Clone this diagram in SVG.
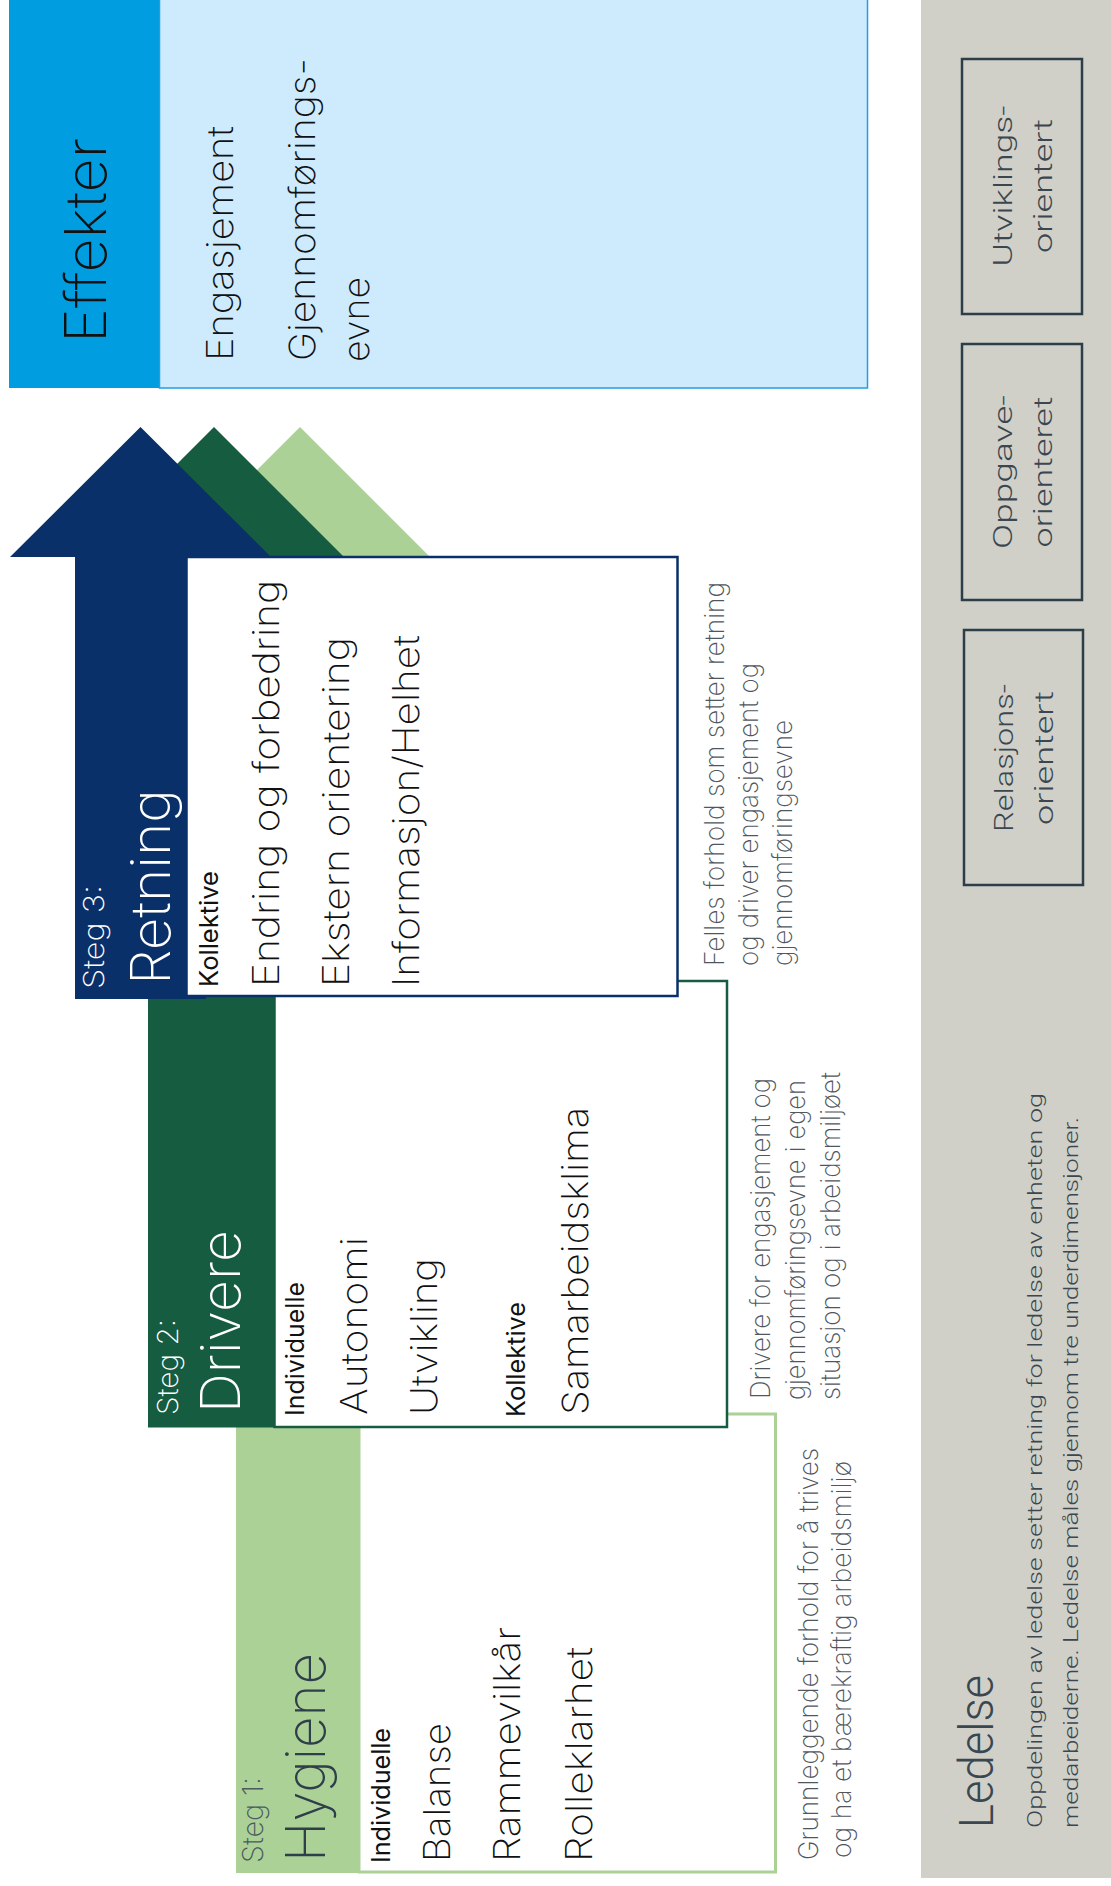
<svg xmlns="http://www.w3.org/2000/svg" width="1111" height="1886" viewBox="0 0 1111 1886">
<style>
text{font-family:Inter,'Liberation Sans',sans-serif;}
.big{font-size:57px;font-weight:200;fill:#111}
.title{font-size:55px;font-weight:200}
.item{font-size:36px;font-weight:200;fill:#111}
.lab{font-size:25px;font-weight:400;fill:#111}
.steg{font-size:29px;font-weight:200}
.side{font-size:27px;font-weight:200;fill:#4f575e}
.led{font-family:Roboto,'Liberation Sans',sans-serif;font-weight:300;fill:#3a4750}
.gb{fill:none;stroke:#2c3e48;stroke-width:2.5}
.w{fill:#fff}
</style>
<rect width="1111" height="1886" fill="#fff"/>

<g id="ledelse">
<rect x="921" y="0" width="190" height="1878" fill="#d0d0c8"/>
<text class="led" font-size="48" transform="translate(993,1828) rotate(-90)" textLength="153" lengthAdjust="spacingAndGlyphs">Ledelse</text>
<text class="led" font-size="21" transform="translate(1042,1828) rotate(-90)" textLength="735" lengthAdjust="spacingAndGlyphs">Oppdelingen av ledelse setter retning for ledelse av enheten og</text>
<text class="led" font-size="21" transform="translate(1078,1828) rotate(-90)" textLength="711" lengthAdjust="spacingAndGlyphs">medarbeiderne. Ledelse måles gjennom tre underdimensjoner.</text>
</g>

<g id="utviklingsorientert">
<rect class="gb" x="962" y="59" width="120" height="255"/>
<text class="led" font-size="26" text-anchor="middle" transform="translate(1012,186) rotate(-90)" textLength="161" lengthAdjust="spacingAndGlyphs">Utviklings-</text>
<text class="led" font-size="26" text-anchor="middle" transform="translate(1052,186) rotate(-90)" textLength="134" lengthAdjust="spacingAndGlyphs">orientert</text>
</g>
<g id="oppgaveorienteret">
<rect class="gb" x="962" y="344" width="120" height="256"/>
<text class="led" font-size="26" text-anchor="middle" transform="translate(1012,472) rotate(-90)" textLength="154" lengthAdjust="spacingAndGlyphs">Oppgave-</text>
<text class="led" font-size="26" text-anchor="middle" transform="translate(1052,472) rotate(-90)" textLength="151" lengthAdjust="spacingAndGlyphs">orienteret</text>
</g>
<g id="relasjonsorientert">
<rect class="gb" x="964" y="630" width="119" height="255"/>
<text class="led" font-size="26" text-anchor="middle" transform="translate(1013,758) rotate(-90)" textLength="148" lengthAdjust="spacingAndGlyphs">Relasjons-</text>
<text class="led" font-size="26" text-anchor="middle" transform="translate(1053,758) rotate(-90)" textLength="134" lengthAdjust="spacingAndGlyphs">orientert</text>
</g>

<g id="effekter">
<rect x="9" y="0" width="151" height="388" fill="#009ee0"/>
<rect x="159.5" y="-2" width="708" height="390" fill="#cdebfd" stroke="#1fa0e0" stroke-width="1.5"/>
<text class="big" transform="translate(106,343) rotate(-90)" textLength="205" lengthAdjust="spacingAndGlyphs">Effekter</text>
<text class="item" transform="translate(232.5,361) rotate(-90)" textLength="235" lengthAdjust="spacingAndGlyphs">Engasjement</text>
<text class="item" transform="translate(315,361) rotate(-90)" textLength="303" lengthAdjust="spacingAndGlyphs">Gjennomførings-</text>
<text class="item" transform="translate(368.5,362) rotate(-90)" textLength="85" lengthAdjust="spacingAndGlyphs">evne</text>
</g>

<g id="hygiene">
<polygon points="170,557 300,427 430,557 363,557 363,1873 236,1873 236,557" fill="#acd197"/>
<rect x="359" y="1414" width="416.5" height="458" fill="#fff" stroke="#acd197" stroke-width="3"/>
<text class="steg" fill="#4a5a5e" transform="translate(263,1863) rotate(-90)" textLength="86" lengthAdjust="spacingAndGlyphs">Steg 1:</text>
<text class="title" fill="#2e3f49" transform="translate(325,1862) rotate(-90)" textLength="209" lengthAdjust="spacingAndGlyphs">Hygiene</text>
<text class="lab" transform="translate(390,1863) rotate(-90)" textLength="135" lengthAdjust="spacingAndGlyphs">Individuelle</text>
<text class="item" transform="translate(450,1862) rotate(-90)" textLength="139" lengthAdjust="spacingAndGlyphs">Balanse</text>
<text class="item" transform="translate(520,1862) rotate(-90)" textLength="235" lengthAdjust="spacingAndGlyphs">Rammevilkår</text>
<text class="item" transform="translate(592,1862) rotate(-90)" textLength="215" lengthAdjust="spacingAndGlyphs">Rolleklarhet</text>
<text class="side" transform="translate(818,1860) rotate(-90)" textLength="412" lengthAdjust="spacingAndGlyphs">Grunnleggende forhold for å trives</text>
<text class="side" transform="translate(851,1858) rotate(-90)" textLength="397" lengthAdjust="spacingAndGlyphs">og ha et bærekraftig arbeidsmiljø</text>
</g>

<g id="drivere">
<polygon points="84,557 214,427 344,557 280,557 280,1427.5 148,1427.5 148,557" fill="#155c41"/>
<rect x="274.5" y="981" width="452.5" height="446" fill="#fff" stroke="#155c41" stroke-width="2.5"/>
<text class="steg w" transform="translate(178,1415) rotate(-90)" textLength="96" lengthAdjust="spacingAndGlyphs">Steg 2:</text>
<text class="title w" transform="translate(240,1413) rotate(-90)" textLength="183" lengthAdjust="spacingAndGlyphs">Drivere</text>
<text class="lab" transform="translate(304,1416) rotate(-90)" textLength="134" lengthAdjust="spacingAndGlyphs">Individuelle</text>
<text class="item" transform="translate(367,1415) rotate(-90)" textLength="178" lengthAdjust="spacingAndGlyphs">Autonomi</text>
<text class="item" transform="translate(437,1415) rotate(-90)" textLength="157" lengthAdjust="spacingAndGlyphs">Utvikling</text>
<text class="lab" transform="translate(525,1417) rotate(-90)" textLength="115" lengthAdjust="spacingAndGlyphs">Kollektive</text>
<text class="item" transform="translate(588,1415) rotate(-90)" textLength="308" lengthAdjust="spacingAndGlyphs">Samarbeidsklima</text>
<text class="side" transform="translate(770,1399) rotate(-90)" textLength="321" lengthAdjust="spacingAndGlyphs">Drivere for engasjement og</text>
<text class="side" transform="translate(805,1400) rotate(-90)" textLength="320" lengthAdjust="spacingAndGlyphs">gjennomføringsevne i egen</text>
<text class="side" transform="translate(840,1400) rotate(-90)" textLength="328" lengthAdjust="spacingAndGlyphs">situasjon og i arbeidsmiljøet</text>
</g>

<g id="retning">
<polygon points="10,557 140.5,427 271,557 206,557 206,999 75,999 75,557" fill="#0a306a"/>
<rect x="186.5" y="557" width="491" height="439" fill="#fff" stroke="#0a306a" stroke-width="2.5"/>
<text class="steg w" transform="translate(104,989) rotate(-90)" textLength="104" lengthAdjust="spacingAndGlyphs">Steg 3:</text>
<text class="title w" transform="translate(170,985) rotate(-90)" textLength="196" lengthAdjust="spacingAndGlyphs">Retning</text>
<text class="lab" transform="translate(218,987) rotate(-90)" textLength="116" lengthAdjust="spacingAndGlyphs">Kollektive</text>
<text class="item" transform="translate(279,987) rotate(-90)" textLength="407" lengthAdjust="spacingAndGlyphs">Endring og forbedring</text>
<text class="item" transform="translate(349,987) rotate(-90)" textLength="350" lengthAdjust="spacingAndGlyphs">Ekstern orientering</text>
<text class="item" transform="translate(419,987) rotate(-90)" textLength="352" lengthAdjust="spacingAndGlyphs">Informasjon/Helhet</text>
<text class="side" transform="translate(724,966) rotate(-90)" textLength="384" lengthAdjust="spacingAndGlyphs">Felles forhold som setter retning</text>
<text class="side" transform="translate(758,966) rotate(-90)" textLength="303" lengthAdjust="spacingAndGlyphs">og driver engasjement og</text>
<text class="side" transform="translate(792,966) rotate(-90)" textLength="246" lengthAdjust="spacingAndGlyphs">gjennomføringsevne</text>
</g>
</svg>
